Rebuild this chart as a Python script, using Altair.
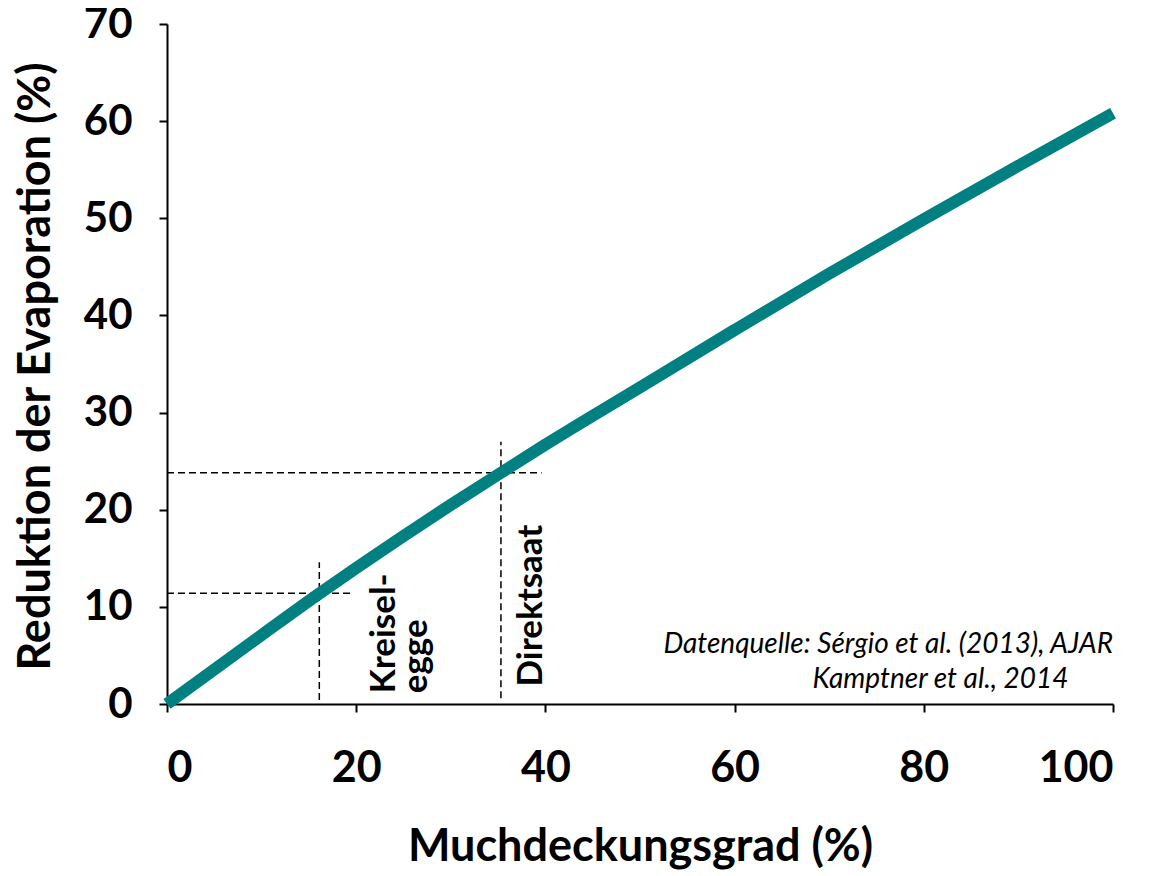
import altair as alt
import pandas as pd

# Curve: mulch cover (%) vs. reduction of evaporation (%)
cover = [0, 10, 16, 20, 30, 35.3, 40, 50, 60, 70, 80, 90, 100]
reduction = [0.0, 7.1, 11.3, 14.0, 20.5, 23.8, 26.7, 32.6, 38.5, 44.3, 49.9, 55.4, 60.8]

# Dashed guide lines (data coordinates)
guide_x = [16.1, 35.3, 0, 0]
guide_x2 = [16.1, 35.3, 19.4, 39.6]
guide_y = [0.4, 0.6, 11.4, 23.8]
guide_y2 = [14.6, 27.0, 11.4, 23.8]

# Rotated labels
lab_text = ["Kreisel-", "egge", "Direktsaat"]
lab_x = [24.1, 27.5, 39.6]
lab_y = [1.1, 1.1, 1.8]

# Source note
src_text = ["Datenquelle: Sérgio et al. (2013), AJAR", "Kamptner et al., 2014"]
src_x = [100.0, 95.3]
src_y = [5.2, 1.65]

curve_df = pd.DataFrame({"x": cover, "y": reduction})
guide_df = pd.DataFrame({"x": guide_x, "x2": guide_x2, "y": guide_y, "y2": guide_y2})
lab_df = pd.DataFrame({"t": lab_text, "x": lab_x, "y": lab_y})
src_df = pd.DataFrame({"t": src_text, "x": src_x, "y": src_y})

FONT = "Lato"

xscale = alt.Scale(domain=[0, 100], nice=False, zero=True)
yscale = alt.Scale(domain=[0, 70], nice=False, zero=True)

xaxis = alt.Axis(
    title="Muchdeckungsgrad (%)",
    values=[0, 20, 40, 60, 80, 100],
    grid=False,
    domainColor="black", domainWidth=2,
    tickColor="black", tickWidth=2, tickSize=8,
    labelFont=FONT, labelFontSize=43, labelFontWeight="bold", labelColor="black",
    labelPadding=35,
    titleFont=FONT, titleFontSize=45, titleFontWeight="bold", titleColor="black",
    titleBaseline="alphabetic", titleY=156, titleX=473, titleAlign="center",
)
yaxis = alt.Axis(
    title="Reduktion der Evaporation (%)",
    values=[0, 10, 20, 30, 40, 50, 60, 70],
    grid=False,
    domainColor="black", domainWidth=2,
    tickColor="black", tickWidth=2, tickSize=8,
    labelFont=FONT, labelFontSize=42, labelFontWeight="bold", labelColor="black",
    labelPadding=27,
    titleFont=FONT, titleFontSize=45, titleFontWeight="bold", titleColor="black",
    titleAngle=270, titleBaseline="alphabetic", titleAlign="center",
    titleX=-118, titleY=342,
)

guides = alt.Chart(guide_df).mark_rule(
    color="black", strokeWidth=1.5, strokeDash=[7, 4]
).encode(
    x=alt.X("x:Q", scale=xscale, axis=xaxis),
    x2="x2:Q",
    y=alt.Y("y:Q", scale=yscale, axis=yaxis),
    y2="y2:Q",
)

curve = alt.Chart(curve_df).mark_line(
    color="#008080", strokeWidth=12, strokeCap="butt", interpolate="monotone"
).encode(
    x=alt.X("x:Q", scale=xscale),
    y=alt.Y("y:Q", scale=yscale),
)

labels = alt.Chart(lab_df).mark_text(
    angle=270, align="left", baseline="alphabetic",
    font=FONT, fontSize=35, fontWeight="bold", color="black",
).encode(
    x=alt.X("x:Q", scale=xscale),
    y=alt.Y("y:Q", scale=yscale),
    text="t:N",
)

source = alt.Chart(src_df).mark_text(
    align="right", baseline="alphabetic",
    font=FONT, fontSize=28, fontStyle="italic", color="black",
).encode(
    x=alt.X("x:Q", scale=xscale),
    y=alt.Y("y:Q", scale=yscale),
    text="t:N",
)

chart = alt.layer(guides, curve, labels, source).properties(
    width=946,
    height=680,
    background="white",
    autosize=alt.AutoSizeParams(type="none"),
    padding={"left": 159, "top": 16, "right": 30, "bottom": 170},
).configure_view(stroke="transparent", strokeWidth=0)

chart.save("out.html", embed_options={"renderer": "svg", "actions": False})
